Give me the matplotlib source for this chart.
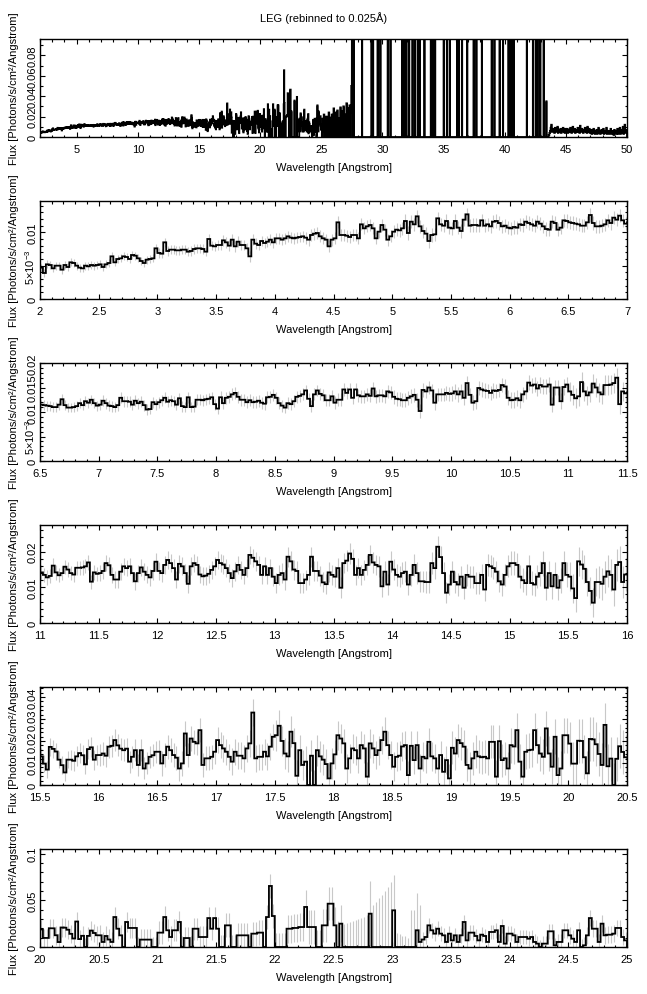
import matplotlib
matplotlib.use("Agg")
import matplotlib.pyplot as plt
import numpy as np
from matplotlib.ticker import FixedLocator, FixedFormatter, MultipleLocator

# flux per 0.025 A bin, in 1e-3 photons/s/cm2/A, starting at 2.0 A
flux_a = [4.7, 3.9, 5.2, 5.1, 4.6, 5.0, 5.0, 4.4, 5.1, 4.8, 5.5, 5.4, 5.0, 4.7, 4.6, 5.0, 4.9, 5.1, 5.0, 5.1,
          5.2, 4.8, 5.2, 5.4, 6.4, 5.5, 6.0, 6.1, 6.4, 6.3, 6.0, 6.6, 6.5, 6.1, 5.7, 5.4, 5.9, 6.0, 6.1, 7.6,
          6.9, 6.8, 8.5, 7.2, 7.4, 7.4, 7.3, 7.3, 7.4, 7.4, 7.1, 7.2, 7.5, 7.6, 7.6, 7.5, 7.1, 9.0, 8.0, 7.9,
          8.1, 8.1, 8.8, 8.5, 8.0, 8.9, 7.9, 8.6, 8.1, 8.1, 7.6, 6.4, 8.9, 8.3, 8.1, 8.7, 8.4, 8.6, 8.9, 8.5,
          9.1, 9.1, 8.9, 9.1, 9.4, 9.2, 9.1, 9.2, 9.3, 9.4, 9.2, 8.9, 9.6, 9.8, 9.9, 9.4, 9.1, 8.9, 7.9, 8.9]
flux_b = [9.1, 11.5, 9.6, 9.6, 9.5, 9.3, 9.6, 9.6, 9.1, 11.2, 10.6, 10.9, 11.1, 10.6, 9.1, 10.1, 11.1, 10.4, 8.9, 9.4,
          10.1, 10.4, 10.3, 10.6, 11.7, 9.9, 11.6, 11.2, 12.4, 10.9, 10.2, 9.8, 8.7, 9.6, 9.7, 12.1, 11.2, 11.0, 11.7, 10.7,
          10.6, 11.7, 10.7, 10.2, 11.9, 12.7, 11.0, 11.1, 11.1, 11.0, 11.8, 11.0, 11.2, 10.9, 11.6, 11.7, 11.4, 10.9, 11.0, 10.7,
          10.6, 10.8, 10.7, 11.2, 11.1, 11.6, 11.4, 11.2, 11.0, 11.6, 11.3, 10.9, 10.5, 10.4, 11.6, 11.4, 10.4, 10.7, 11.8, 11.7,
          11.5, 11.4, 11.3, 11.2, 11.0, 11.0, 11.5, 12.6, 11.4, 10.9, 10.9, 11.0, 11.2, 11.8, 11.4, 12.2, 11.9, 12.5, 11.8, 11.3]
flux_c = [11.5, 12.3, 11.8, 11.3, 11.2, 11.0, 11.4, 12.9, 12.2, 12.2, 12.1, 11.5, 12.3, 11.8, 12.1, 11.4, 10.5, 10.6, 12.0, 11.6,
          12.0, 12.4, 12.9, 12.1, 12.4, 12.2, 11.5, 12.8, 11.2, 11.0, 13.0, 11.0, 11.1, 12.5, 12.5, 12.4, 12.6, 12.7, 13.0, 11.6,
          10.7, 13.0, 11.8, 12.9, 13.1, 13.6, 13.9, 13.1, 12.5, 12.5, 12.0, 12.4, 12.0, 12.1, 12.3, 11.9, 11.7, 13.0, 13.1, 13.5,
          12.9, 11.8, 11.3, 10.9, 11.8, 11.6, 12.2, 13.1, 13.3, 13.6, 14.4, 12.7, 11.2, 13.6, 14.4, 13.7, 13.4, 12.4, 12.4, 13.2]
flux_d = [11.9, 12.5, 12.5, 14.6, 13.9, 14.6, 12.9, 14.6, 13.4, 13.2, 13.2, 13.6, 13.3, 14.8, 13.2, 13.4, 13.4, 13.2, 14.2, 14.0,
          13.1, 12.7, 12.6, 12.4, 12.4, 12.9, 13.2, 13.5, 12.5, 10.2, 14.5, 14.2, 15.0, 14.4, 11.9, 13.6, 13.6, 13.6, 13.9, 13.7,
          13.8, 14.2, 13.6, 14.2, 12.9, 15.9, 13.5, 11.9, 12.2, 14.9, 14.6, 14.4, 14.3, 13.9, 14.4, 14.3, 14.5, 15.5, 15.2, 12.9,
          12.4, 12.5, 12.8, 12.4, 13.6, 14.2, 16.0, 15.4, 15.6, 14.8, 15.5, 15.2, 15.2, 15.6, 11.5, 15.0, 15.0, 12.2, 15.1, 15.6,
          14.2, 13.5, 12.8, 13.2, 16.1, 14.2, 13.4, 14.0, 15.8, 15.0, 14.0, 13.6, 15.5, 15.5, 15.6, 15.9, 17.0, 11.6, 14.2, 13.8]
flux_e = [14.0, 14.6, 16.8, 16.2, 13.5, 12.2, 12.2, 14.4, 15.9, 15.4, 15.9, 14.0, 11.7, 14.0, 15.6, 14.4, 13.5, 12.8, 14.6, 17.2,
          14.6, 14.0, 16.3, 17.7, 16.8, 15.4, 12.2, 16.6, 15.9, 14.0, 11.0, 15.9, 16.8, 16.3, 13.6, 13.1, 13.3, 13.8, 14.9, 15.9,
          17.7, 16.8, 16.4, 15.4, 14.0, 12.6, 14.5, 16.3, 14.9, 13.5, 15.4, 19.1, 18.3, 17.3, 16.3, 13.5, 15.9, 13.5, 15.4, 13.0,
          11.2, 13.5, 14.0, 12.2, 18.6, 17.3, 15.0, 14.6, 11.2, 11.2, 12.2, 13.5, 18.6, 14.6, 14.6, 13.3, 11.4, 10.9, 14.2, 13.5]
flux_f = [13.0, 15.4, 9.9, 16.8, 17.5, 19.5, 18.0, 13.5, 15.4, 13.5, 14.9, 16.3, 19.1, 17.0, 16.3, 15.9, 10.3, 14.4, 10.8, 17.2,
          15.0, 13.5, 13.0, 14.0, 14.4, 10.8, 13.5, 16.3, 14.0, 11.7, 11.7, 11.5, 11.5, 16.8, 15.4, 21.4, 18.5, 14.0, 8.5, 10.8,
          14.4, 11.5, 10.8, 13.0, 9.9, 13.5, 13.0, 13.0, 11.2, 11.2, 13.5, 9.4, 16.3, 15.9, 15.4, 14.4, 11.7, 10.8, 13.5, 15.9,
          16.8, 16.8, 16.3, 13.0, 12.0, 11.2, 15.9, 11.2, 10.8, 13.0, 14.0, 16.8, 9.9, 14.0, 10.3, 13.5, 9.9, 12.0, 16.8, 13.5,
          13.0, 9.7, 7.0, 17.3, 16.4, 15.2, 11.5, 9.0, 5.7, 11.5, 11.5, 11.0, 13.0, 14.5, 13.5, 9.4, 16.3, 17.1, 11.5, 13.6]
flux_g = [13.6, 14.3, 13.3, 17.4, 17.8, 20.4, 18.0, 16.5, 15.8, 16.5, 10.6, 12.8, 15.8, 9.1, 15.8, 7.5, 9.8, 12.8, 13.5, 15.1,
          15.1, 9.8, 13.6, 17.4, 15.8, 13.6, 12.4, 7.5, 9.8, 23.4, 13.6, 21.1, 19.6, 18.9, 24.9, 9.1, 12.1, 12.1, 12.8, 15.1,
          20.4, 18.1, 16.6, 15.1, 12.8, 10.6, 15.1, 13.3, 13.3, 12.1, 16.6, 18.9, 32.9, 12.1, 12.8, 12.8, 15.1, 13.0, 17.4, 21.9,
          22.6, 26.9, 20.0, 14.3, 13.0, 24.2, 19.0, 4.2, 15.8, 9.1, 10.6, 0.0, 13.3, 0.0, 15.8, 13.0, 11.5, 9.5, 3.0, 9.8]
flux_h = [13.9, 22.6, 21.1, 18.9, 7.5, 12.1, 16.6, 15.8, 12.1, 18.1, 16.6, 3.8, 18.9, 16.6, 13.6, 15.8, 20.4, 24.2, 18.1, 13.6,
          8.3, 12.8, 13.3, 17.5, 18.1, 4.5, 17.8, 11.3, 18.1, 7.5, 12.8, 12.1, 19.6, 13.0, 12.1, 7.5, 13.6, 6.0, 11.3, 3.0,
          16.9, 14.3, 20.4, 19.0, 17.4, 9.1, 7.5, 12.1, 15.1, 13.0, 12.6, 12.8, 12.1, 19.6, 19.6, 3.8, 19.9, 11.3, 12.1, 7.5,
          18.1, 17.5, 24.9, 10.6, 3.8, 15.1, 15.8, 16.0, 24.9, 18.1, 14.3, 12.8, 25.7, 14.3, 8.3, 21.9, 4.5, 7.5, 22.6, 22.6,
          18.8, 9.7, 9.7, 20.1, 20.0, 12.6, 5.3, 20.9, 20.7, 18.5, 14.1, 9.1, 27.3, 8.5, 12.0, 0.0, 11.9, 17.6, 15.0, 12.6]
flux_i = [12.5, 5.4, 11.8, 8.0, 5.4, 32.1, 19.6, 12.5, 0.0, 26.8, 20.4, 20.4, 20.4, 0.0, 7.9, 7.9, 7.9, 7.9, 0.0, 0.0,
          15.4, 15.4, 32.1, 17.9, 10.7, 17.9, 17.9, 26.8, 0.0, 9.6, 9.6, 0.0, 19.6, 19.6, 10.7, 10.7, 10.7, 31.0, 19.6, 31.0,
          19.6, 0.0, 0.0, 23.2, 23.2, 0.0, 0.0, 12.5, 12.5, 12.5, 12.5, 0.0, 14.3, 14.3, 15.4, 15.4, 0.0, 32.1, 65.4, 33.2,
          0.0, 0.0, 0.0, 0.0, 19.6, 19.6, 20.4, 20.4, 21.4, 21.4, 42.9, 21.4, 21.4, 21.4, 0.0, 0.0, 23.2, 23.2, 46.4, 46.4]
flux_j = [23.2, 0.0, 25.0, 0.0, 0.0, 0.0, 0.0, 0.0, 0.0, 0.0, 0.0, 0.0, 35.7, 0.0, 0.0, 0.0, 0.0, 0.0, 0.0, 0.0,
          39.3, 0.0, 0.0, 0.0, 0.0, 0.0, 0.0, 0.0, 17.9, 5.4, 8.0, 10.7, 23.2, 17.9, 14.3, 19.6, 14.3, 12.5, 5.4, 14.3,
          7.1, 12.5, 5.4, 12.5, 26.8, 7.1, 15.4, 15.4, 11.8, 7.1, 13.2, 11.8, 5.4, 16.1, 16.1, 17.9, 5.4, 22.5, 3.6, 14.3,
          14.3, 12.5, 5.4, 10.7, 10.7, 10.7, 8.9, 10.7, 5.4, 3.6, 0.0, 3.6, 3.6, 16.8, 16.8, 1.8, 5.4, 5.4, 17.9, 17.9,
          12.5, 8.9, 5.4, 17.9, 0.0, 1.8, 12.5, 31.0, 19.6, 19.6, 5.4, 25.0, 12.5, 13.2, 13.2, 14.3, 20.4, 20.4, 10.7, 7.1]

# 1-sigma error per 0.25 A (2.0 - 25.0 A), in 1e-3
err_q = [0.6, 0.6, 0.6, 0.6, 0.7, 0.7, 0.8, 0.8, 0.8, 0.9, 0.9, 0.9,
         1.0, 1.0, 1.0, 1.0, 1.0, 1.0, 1.0, 1.0, 1.1, 1.1, 1.1, 1.1,
         1.2, 1.2, 1.2, 1.2, 1.3, 1.3, 1.4, 1.4, 1.5, 1.5, 1.6, 1.6,
         2.0, 2.0, 2.3, 2.4, 2.5, 2.5, 2.6, 2.6, 2.8, 2.8, 2.9, 2.9,
         3.0, 3.0, 3.1, 3.1, 3.3, 3.5, 4.0, 4.5, 5.0, 5.0, 5.5, 5.5,
         6.0, 6.0, 7.0, 7.0, 6.5, 6.5, 6.5, 6.5, 7.5, 7.5, 8.0, 8.0,
         10, 10, 11, 11, 12, 12, 13, 13, 15, 18, 30, 50,
         40, 8, 8, 8, 8, 8, 9, 9]
# per-bin errors 22.5 - 23.15 A (mostly empty bins), in 1e-3
err_j_start = [20, 28, 20, 25, 26, 27, 28, 29, 30, 31, 32, 34, 35,
               45, 48, 52, 56, 60, 64, 70, 38, 15, 14, 12, 12, 10]

# overview only: 25-27.5 A and 43.5-50 A at 0.05 A, in 1e-3
flux_top_25 = [12, 0, 18, 5, 22, 0, 15, 8, 20, 0, 14, 3, 24, 0, 10, 19, 0, 22, 6, 0,
               28, 0, 15, 24, 0, 9, 26, 0, 18, 4, 0, 29, 12, 0, 25, 0, 30, 8, 0, 22,
               0, 33, 14, 0, 28, 0, 31, 0, 24, 50]
flux_top_43 = [0, 0, 2, 4, 6, 9, 12, 5, 8, 6, 7, 4, 9, 5, 8, 6, 10, 4, 7, 6,
               5, 8, 4, 7, 6, 9, 5, 7, 4, 8, 6, 5, 8, 4, 7, 6, 5, 9, 6, 4,
               7, 10, 5, 6, 8, 4, 7, 5, 6, 9, 5, 7, 4, 11, 6, 5, 8, 6, 4, 7,
               6, 9, 5, 7, 4, 10, 6, 5, 8, 4, 5, 7, 3, 6, 4, 8, 5, 3, 6, 4,
               7, 3, 5, 9, 4, 6, 3, 5, 7, 4, 5, 8, 3, 6, 4, 5, 9, 3, 6, 4,
               6, 3, 5, 8, 4, 3, 6, 5, 2, 7, 4, 6, 3, 5, 8, 3, 6, 4, 9, 3,
               5, 7, 4, 10, 3, 6, 12, 4, 7, 5]
# 27.5-43.5 A: empty except these bins
spike_wl = [27.5, 27.525, 27.65, 28.325, 29.1, 29.225, 29.6, 29.825, 30.425, 30.65,
            31.6, 31.775, 31.95, 32.175, 32.45, 32.65, 32.875, 33.05, 33.425, 33.95,
            33.975, 34.125, 34.3, 35.0, 35.025, 35.275, 35.5, 36.1, 36.25, 36.5,
            36.925, 37.45, 37.675, 38.125, 38.925, 39.15, 39.575, 39.85, 40.3, 40.475,
            40.6, 40.625, 40.725, 41.8, 42.3, 42.525, 42.675, 42.9, 43.175, 43.4]
spike_val = [150] * 49 + [35]

BIN = 0.025
flux = np.concatenate([flux_a, flux_b, flux_c, flux_d, flux_e,
                       flux_f, flux_g, flux_h, flux_i, flux_j]) * 1e-3
edges = 2.0 + BIN * np.arange(len(flux) + 1)
centers = edges[:-1] + BIN / 2
err = np.repeat(err_q, 10) * 1e-3
err[820:820 + len(err_j_start)] = np.array(err_j_start) * 1e-3

# overview spectrum
spikes = np.zeros(640)
spikes[np.round((np.array(spike_wl) - 27.5) / BIN).astype(int)] = spike_val
top_vals = np.concatenate([flux, np.array(flux_top_25) * 1e-3, spikes * 1e-3,
                           np.array(flux_top_43) * 1e-3])
top_edges = np.concatenate([edges,
                            25.0 + 0.05 * np.arange(1, 51),
                            27.5 + BIN * np.arange(1, 641),
                            43.5 + 0.05 * np.arange(1, 131)])

plt.rcParams['font.family'] = ['Liberation Sans', 'DejaVu Sans']
plt.rcParams['mathtext.default'] = 'regular'
plt.rcParams['font.size'] = 8

W, H = 647, 995
fig = plt.figure(figsize=(W / 100, H / 100), dpi=100)
fig.text(0.5, 1 - 18 / H, 'LEG (rebinned to 0.025Å)', ha='center', va='center', fontsize=8)

tops = [40, 202, 364, 526, 688, 850]
ph = 98

e3 = '5×10$^{-3}$'
panels = [
    (2, 50, 0.096, [0, 0.02, 0.04, 0.06, 0.08], ['0', '0.02', '0.04', '0.06', '0.08'], 0.01, 5, 1),
    (2, 7, 0.0147, [0, 0.005, 0.01], ['0', e3, '0.01'], 0.001, 0.5, 0.1),
    (6.5, 11.5, 0.02, [0, 0.005, 0.01, 0.015, 0.02], ['0', e3, '0.01', '0.015', '0.02'], 0.001, 0.5, 0.1),
    (11, 16, 0.0275, [0, 0.01, 0.02], ['0', '0.01', '0.02'], 0.002, 0.5, 0.1),
    (15.5, 20.5, 0.0445, [0, 0.01, 0.02, 0.03, 0.04], ['0', '0.01', '0.02', '0.03', '0.04'], 0.002, 0.5, 0.1),
    (20, 25, 0.105, [0, 0.05, 0.1], ['0', '0.05', '0.1'], 0.01, 0.5, 0.1),
]

for k, (x0, x1, ytop, yt, ytl, ymin, xmaj, xmin) in enumerate(panels):
    ax = fig.add_axes([40 / W, 1 - (tops[k] + ph) / H, 587 / W, ph / H])
    if k == 0:
        ax.stairs(top_vals, top_edges, color='black', lw=1.3)
    else:
        ax.vlines(centers, flux - err, flux + err, color='#c8c8c8', lw=0.8, zorder=1)
        ax.stairs(flux, edges, color='black', lw=1.3, zorder=2)
    ax.set_xlim(x0, x1)
    ax.set_ylim(0, ytop)
    ax.xaxis.set_major_locator(MultipleLocator(xmaj))
    ax.xaxis.set_minor_locator(MultipleLocator(xmin))
    if k == 0:
        ax.xaxis.set_major_locator(FixedLocator([5, 10, 15, 20, 25, 30, 35, 40, 45, 50]))
    else:
        ax.xaxis.set_major_formatter(matplotlib.ticker.FormatStrFormatter('%g'))
    ax.yaxis.set_major_locator(FixedLocator(yt))
    ax.yaxis.set_major_formatter(FixedFormatter(ytl))
    ax.yaxis.set_minor_locator(MultipleLocator(ymin))
    ax.tick_params(which='both', direction='in', top=True, right=True, width=0.8)
    ax.tick_params(which='major', length=3.5)
    ax.tick_params(which='minor', length=1.8)
    ax.tick_params(axis='x', pad=5)
    ax.tick_params(axis='y', labelrotation=90, pad=2)
    for lab in ax.get_yticklabels():
        lab.set_verticalalignment('center')
    for s in ax.spines.values():
        s.set_linewidth(1.0)
    ax.set_xlabel('Wavelength [Angstrom]', labelpad=6)
    ax.set_ylabel('Flux [Photons/s/cm²/Angstrom]')
    ax.yaxis.set_label_coords(-0.036, 0.5)

fig.savefig('out.png', dpi=100)
